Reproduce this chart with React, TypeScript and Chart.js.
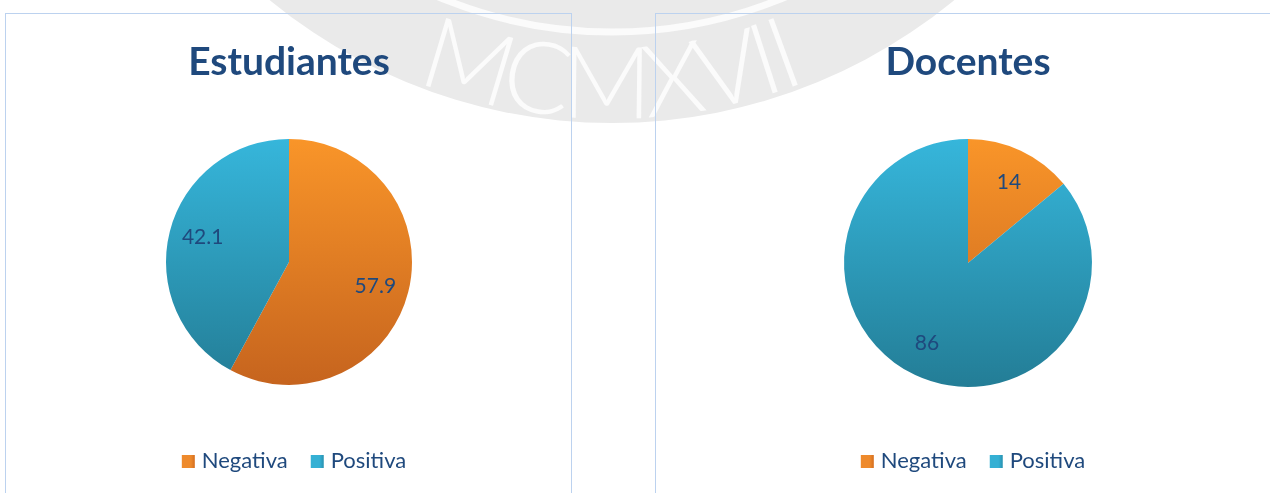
import React, { useEffect, useRef } from "react";
import { Chart, registerables } from "chart.js";

Chart.register(...registerables);

// ---------- data ----------
const categories = ["Negativa", "Positiva"];
const estudiantesValues = [57.9, 42.1];
const docentesValues = [14, 86];
const chartTitles = ["Estudiantes", "Docentes"];
const watermarkText = "MCMXVII";

// ---------- styles ----------
const TEXT_BLUE = "#1F497D";
const GRADIENT_TOP = ["#F99529", "#36B6DB"];
const GRADIENT_BOTTOM = ["#C6641E", "#237D96"];
const LEGEND_LIGHT = ["#EE8A2C", "#35B0D4"];
const LEGEND_DARK = ["#D46E20", "#2890AE"];
const PANEL_BORDER = "#BCD2EF";
const LABEL_RADIUS = 0.73;
const LABEL_ANGLE_SHIFT = 0.03;

function sliceGradient(radius: number) {
  return (ctx: any) => {
    const chart = ctx.chart;
    const i = ctx.dataIndex ?? 0;
    const area = chart.chartArea;
    if (!area) return GRADIENT_TOP[i];
    const cy = (area.top + area.bottom) / 2;
    const g = chart.ctx.createLinearGradient(0, cy - radius, 0, cy + radius);
    g.addColorStop(0, GRADIENT_TOP[i]);
    g.addColorStop(1, GRADIENT_BOTTOM[i]);
    return g;
  };
}

// legend marker: 13x13 square placed inside a wider transparent image so the
// box-to-text gap matches the original
function legendMarker(i: number) {
  const c = document.createElement("canvas");
  c.width = 41;
  c.height = 13;
  const g = c.getContext("2d")!;
  const grad = g.createLinearGradient(21, 0, 34, 0);
  grad.addColorStop(0, LEGEND_LIGHT[i]);
  grad.addColorStop(0.7, LEGEND_LIGHT[i]);
  grad.addColorStop(1, LEGEND_DARK[i]);
  g.fillStyle = grad;
  g.fillRect(21, 0, 13, 13);
  return c;
}

const sliceLabels = {
  id: "sliceLabels",
  afterDatasetsDraw(chart: any) {
    const ctx = chart.ctx;
    const meta = chart.getDatasetMeta(0);
    const data = chart.data.datasets[0].data;
    ctx.save();
    ctx.font = "21px Lato";
    ctx.fillStyle = TEXT_BLUE;
    ctx.textAlign = "center";
    ctx.textBaseline = "middle";
    meta.data.forEach((arc: any, i: number) => {
      const { x, y, startAngle, endAngle, outerRadius } = arc.getProps(
        ["x", "y", "startAngle", "endAngle", "outerRadius"],
        true
      );
      const mid = (startAngle + endAngle) / 2 + LABEL_ANGLE_SHIFT;
      const r = outerRadius * LABEL_RADIUS;
      ctx.fillText(String(data[i]), x + Math.cos(mid) * r, y + Math.sin(mid) * r);
    });
    ctx.restore();
  },
};

type PieProps = {
  title: string;
  values: number[];
  left: number;
  width: number;
  radius: number;
  titleGap: number;
};

function PieChart({ title, values, left, width, radius, titleGap }: PieProps) {
  const ref = useRef<HTMLCanvasElement | null>(null);
  useEffect(() => {
    if (!ref.current) return;
    const markers = categories.map((_, i) => legendMarker(i));
    const chart = new Chart(ref.current, {
      type: "pie",
      data: {
        labels: categories,
        datasets: [
          {
            data: values,
            backgroundColor: sliceGradient(radius) as any,
            borderWidth: 0,
            radius: radius,
          } as any,
        ],
      },
      options: {
        responsive: false,
        animation: false,
        devicePixelRatio: 1,
        layout: { padding: { top: 26, bottom: 11, left: 0, right: 0 } },
        plugins: {
          title: {
            display: true,
            text: title,
            color: TEXT_BLUE,
            font: { family: "Lato", size: 39, weight: "bold" },
            padding: { top: 0, bottom: titleGap },
          },
          legend: {
            display: true,
            position: "bottom",
            labels: {
              usePointStyle: true,
              boxWidth: 19,
              boxHeight: 13,
              padding: 13,
              color: TEXT_BLUE,
              font: { family: "Lato", size: 22 },
              generateLabels: () =>
                categories.map((c, i) => ({
                  text: c,
                  fillStyle: LEGEND_LIGHT[i],
                  strokeStyle: LEGEND_LIGHT[i],
                  lineWidth: 0,
                  hidden: false,
                  index: i,
                  fontColor: TEXT_BLUE,
                  pointStyle: markers[i],
                })) as any,
            },
          },
          tooltip: { enabled: false },
        },
      },
      plugins: [sliceLabels],
    });
    return () => chart.destroy();
  }, [title, values, radius, titleGap]);

  return (
    <canvas
      ref={ref}
      width={width}
      height={480}
      style={{ position: "absolute", left, top: 13, width, height: 480 }}
    />
  );
}

function Watermark() {
  const cx = 612;
  const cy = -415;
  const textR = 533;
  const path = `M ${cx - textR} ${cy} A ${textR} ${textR} 0 0 0 ${cx + textR} ${cy}`;
  return (
    <svg
      width={1270}
      height={493}
      style={{ position: "absolute", left: 0, top: 0 }}
    >
      <defs>
        <path id="wmArc" d={path} />
      </defs>
      <circle cx={cx} cy={cy} r={538} fill="#eaeaea" />
      <circle cx={cx} cy={cy} r={447} fill="none" stroke="#fbfbfb" strokeWidth={7} />
      <text
        fill="#fbfbfb"
        fontFamily="Lato"
        fontWeight={300}
        fontSize={100}
        textLength={400}
        lengthAdjust="spacing"
      >
        <textPath href="#wmArc" startOffset="50%" textAnchor="middle">
          {watermarkText}
        </textPath>
      </text>
    </svg>
  );
}

export default function App() {
  return (
    <div
      style={{
        position: "fixed",
        left: 0,
        top: 0,
        width: 1270,
        height: 493,
        overflow: "hidden",
        background: "#ffffff",
      }}
    >
      <Watermark />
      <div
        style={{
          position: "absolute",
          left: 5,
          top: 13,
          width: 567,
          height: 520,
          boxSizing: "border-box",
          border: `1px solid ${PANEL_BORDER}`,
        }}
      />
      <div
        style={{
          position: "absolute",
          left: 655,
          top: 13,
          width: 700,
          height: 520,
          boxSizing: "border-box",
          border: `1px solid ${PANEL_BORDER}`,
        }}
      />
      <PieChart
        title={chartTitles[0]}
        values={estudiantesValues}
        left={5}
        width={568}
        radius={123}
        titleGap={1}
      />
      <PieChart
        title={chartTitles[1]}
        values={docentesValues}
        left={655}
        width={626}
        radius={124}
        titleGap={3}
      />
    </div>
  );
}
